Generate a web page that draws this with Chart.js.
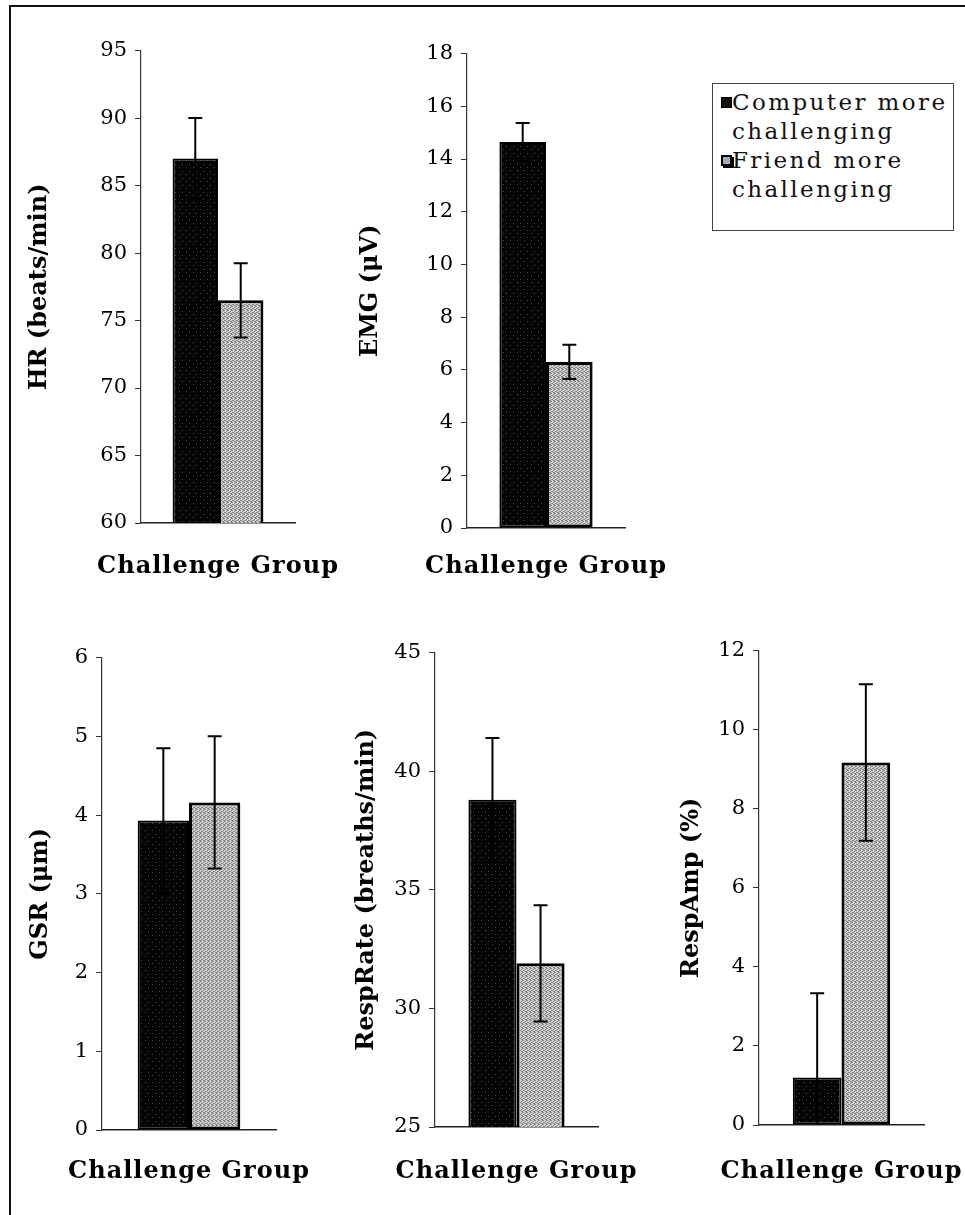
<!DOCTYPE html>
<html>
<head>
<meta charset="utf-8">
<script src="https://cdn.jsdelivr.net/npm/chart.js@4.4.1/dist/chart.umd.min.js"></script>
<style>
    html, body { margin: 0; padding: 0; background: #fff; }
    #page { position: relative; width: 965px; height: 1215px; overflow: hidden; }
    #frame { position: absolute; left: 9px; top: 5px; width: 1000px; height: 1300px; border-left: 2px solid #111; border-top: 2px solid #111; }
    canvas { position: absolute; }
    #legend { position: absolute; left: 712px; top: 83px; width: 242px; height: 148px; box-sizing: border-box; border: 1px solid #444; background: #fff;
              font-family: 'DejaVu Serif', serif; font-size: 23px; letter-spacing: 2.4px; color: #111; }
    #legend .sw { position: absolute; left: 8px; width: 11px; height: 11px; box-sizing: border-box; border: 1px solid #000; }
    #legend .txt { position: absolute; left: 19px; line-height: 29px; white-space: nowrap; }
</style>
</head>
<body>
<div id="page">
    <div id="frame"></div>
    <canvas id="c0"></canvas>
    <canvas id="c1"></canvas>
    <canvas id="c2"></canvas>
    <canvas id="c3"></canvas>
    <canvas id="c4"></canvas>
    <div id="legend">
        <span class="sw" id="sw0" style="top:13px;"></span>
        <div class="txt" id="lg0" style="top:4px;"></div>
        <span class="sw" id="sw1" style="top:71px; border-width:2px; box-shadow:2px 2px 0 #000;"></span>
        <div class="txt" id="lg1" style="top:62px;"></div>
    </div>
</div>
<script>
// data
const categories = ['Challenge Group'];
const seriesNames = ['Computer more challenging', 'Friend more challenging'];
const measures = ['HR (beats/min)', 'EMG (μV)', 'GSR (μm)', 'RespRate (breaths/min)', 'RespAmp (%)'];
const computerMeans = [87.0, 14.65, 3.93, 38.8, 1.2];
const computerErrors = [3.0, 0.72, 0.92, 2.6, 2.13];
const friendMeans = [76.5, 6.3, 4.16, 31.9, 9.17];
const friendErrors = [2.75, 0.65, 0.84, 2.45, 1.98];
const yMins = [60, 0, 0, 25, 0];
const yMaxes = [95, 18, 6, 45, 12];
const ySteps = [5, 2, 1, 5, 2];

// where each plot sits on the page (l/r/t/b = plot area, tx = y title centre, ty = x title centre)
const panels = [
    { l: 141, r: 295, t: 50, b: 523, tx: 40, ty: 567 },
    { l: 467, r: 625, t: 53, b: 528, tx: 371, ty: 567 },
    { l: 102, r: 276, t: 657, b: 1130, tx: 41, ty: 1172 },
    { l: 435, r: 598, t: 652, b: 1127, tx: 367, ty: 1172 },
    { l: 759, r: 924, t: 650, b: 1125, tx: 692, ty: 1172 }
];
const rightRoom = 50;

const family = "'DejaVu Serif', serif";

// halftone-ish fills like the printed bars
function makeFill(base, spot, spots, size) {
    const c = document.createElement('canvas');
    c.width = size; c.height = size;
    const g = c.getContext('2d');
    g.fillStyle = base;
    g.fillRect(0, 0, size, size);
    g.fillStyle = spot;
    spots.forEach(p => g.fillRect(p[0], p[1], 1, 1));
    return g.createPattern(c, 'repeat');
}
const darkFill = makeFill('#050505', '#4a4a4a', [[1, 1], [5, 4]], 7);
const lightFill = makeFill('#d4d4d4', '#808080', [[0, 0], [2, 1], [1, 2], [3, 3], [0, 2], [2, 3], [3, 0]], 4);

const errorBars = {
    id: 'errorBars',
    afterDatasetsDraw(chart) {
        const ctx = chart.ctx;
        const y = chart.scales.y;
        const a = chart.chartArea;
        ctx.save();
        ctx.beginPath();
        ctx.rect(a.left, a.top - 2, a.right - a.left, a.bottom - a.top + 2);
        ctx.clip();
        ctx.strokeStyle = '#000';
        ctx.lineWidth = 2;
        chart.data.datasets.forEach((ds, i) => {
            chart.getDatasetMeta(i).data.forEach((bar, j) => {
                const top = y.getPixelForValue(ds.data[j] + ds.errors[j]);
                const bot = y.getPixelForValue(ds.data[j] - ds.errors[j]);
                ctx.beginPath();
                ctx.moveTo(bar.x, top); ctx.lineTo(bar.x, bot);
                ctx.moveTo(bar.x - 7, top); ctx.lineTo(bar.x + 7, top);
                ctx.moveTo(bar.x - 7, bot); ctx.lineTo(bar.x + 7, bot);
                ctx.stroke();
            });
        });
        ctx.restore();
    }
};

// category name under the axis (drawn by hand so it is not squeezed to the plot width)
const groupLabel = {
    id: 'groupLabel',
    afterDraw(chart, args, opts) {
        const ctx = chart.ctx;
        const x = chart.scales.x;
        ctx.save();
        ctx.font = 'bold 24px ' + family;
        ctx.letterSpacing = '1px';
        ctx.fillStyle = '#000';
        ctx.textAlign = 'center';
        ctx.textBaseline = 'middle';
        x.getLabels().forEach((lab, i) => ctx.fillText(lab, x.getPixelForValue(i), opts.y));
        ctx.restore();
    }
};

function makeChart(k) {
    const p = panels[k];
    const cl = p.tx - 20, ct = p.t - 20;
    const cw = p.r + rightRoom - cl, ch = p.ty + 25 - ct;
    const canvas = document.getElementById('c' + k);
    canvas.width = cw; canvas.height = ch;
    canvas.style.left = cl + 'px'; canvas.style.top = ct + 'px';
    const ySize = 24;

    new Chart(canvas, {
        type: 'bar',
        data: {
            labels: categories,
            datasets: [{
                label: seriesNames[0],
                data: [computerMeans[k]],
                errors: [computerErrors[k]],
                backgroundColor: darkFill,
                borderColor: '#000',
                borderWidth: 2,
                borderSkipped: false
            }, {
                label: seriesNames[1],
                data: [friendMeans[k]],
                errors: [friendErrors[k]],
                backgroundColor: lightFill,
                borderColor: '#000',
                borderWidth: 3,
                borderSkipped: false
            }]
        },
        options: {
            responsive: false,
            animation: false,
            layout: { padding: { top: 20, right: rightRoom, left: 0, bottom: 0 } },
            datasets: { bar: { categoryPercentage: 0.59, barPercentage: 1 } },
            plugins: {
                legend: { display: false },
                tooltip: { enabled: false },
                groupLabel: { y: p.ty - ct }
            },
            scales: {
                x: {
                    grid: { display: false, drawTicks: false },
                    border: { display: true, color: '#222', width: 1.5 },
                    ticks: { display: false },
                    afterFit(s) { s.height = ch - (p.b - ct); }
                },
                y: {
                    min: yMins[k],
                    max: yMaxes[k],
                    ticks: { stepSize: ySteps[k], color: '#000', padding: 8, font: { family: family, size: 21 } },
                    grid: { drawOnChartArea: false, tickLength: 6, color: '#333', lineWidth: 1 },
                    border: { display: true, color: '#333', width: 1.2 },
                    title: {
                        display: true, text: measures[k], color: '#000',
                        font: { family: family, size: ySize, weight: 'bold' },
                        padding: { top: 20 - ySize * 0.6, bottom: 0 }
                    },
                    afterFit(s) { s.width = p.l - cl; }
                }
            }
        },
        plugins: [errorBars, groupLabel]
    });
}

for (let k = 0; k < panels.length; k++) makeChart(k);

// legend
function splitName(name) {
    const parts = name.split(' ');
    return parts.slice(0, -1).join(' ') + '<br>' + parts[parts.length - 1];
}
document.getElementById('lg0').innerHTML = splitName(seriesNames[0]);
document.getElementById('lg1').innerHTML = splitName(seriesNames[1]);
document.getElementById('sw0').style.background = '#111';
document.getElementById('sw1').style.background = '#aaa';
</script>
</body>
</html>
